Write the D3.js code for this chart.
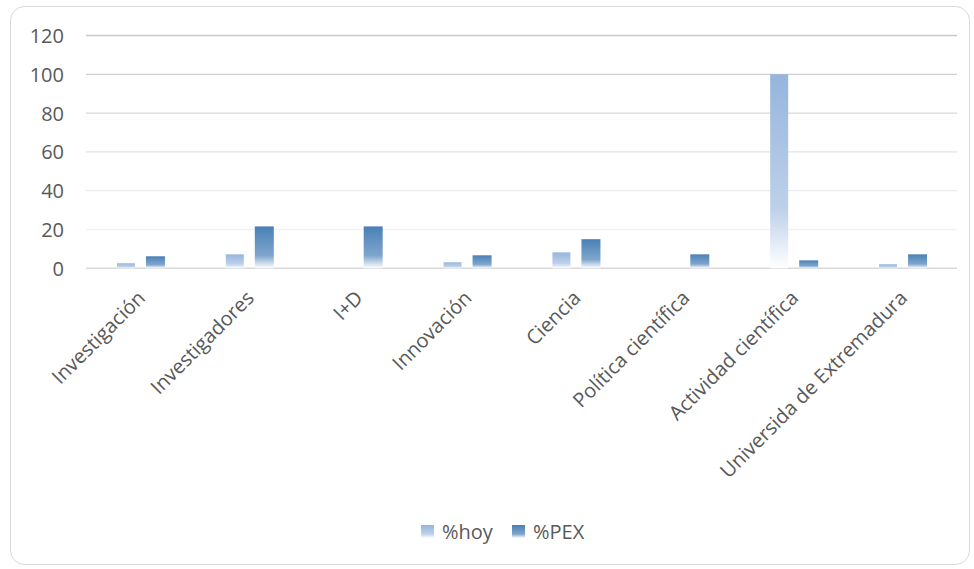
<!DOCTYPE html>
<html><head><meta charset="utf-8">
<script src="https://cdn.jsdelivr.net/npm/d3@7"></script>
<style>
html,body{margin:0;padding:0;background:#fff;}
text{font-family:"Open Sans",sans-serif;fill:#595959;}
</style></head>
<body>
<svg id="c" width="974" height="569"></svg>
<script>
const categories = ["Investigación","Investigadores","I+D","Innovación","Ciencia","Política científica","Actividad científica","Universida de Extremadura"];
const hoy = [2.6, 7.2, 0, 3.1, 8.2, 0, 100, 2.1];
const pex = [6.2, 21.6, 21.6, 6.7, 15, 7.2, 4.1, 7.2];
const seriesNames = ["%hoy","%PEX"];
const yTicks = [0,20,40,60,80,100,120];

const svg = d3.select("#c");
const m={l:86,r:957,t:35.5,b:268.3};

const defs = svg.append("defs");
function grad(id, top, mid){
  const g = defs.append("linearGradient").attr("id",id).attr("x1",0).attr("y1",0).attr("x2",0).attr("y2",1);
  g.append("stop").attr("offset","0%").attr("stop-color",top);
  g.append("stop").attr("offset","70%").attr("stop-color",mid);
  g.append("stop").attr("offset","100%").attr("stop-color","#ffffff");
}
grad("gHoy","#95b5dd","#bed1ea");
grad("gPex","#4a80b6","#7fa6cc");

svg.append("rect").attr("x",10.5).attr("y",6.5).attr("width",959).attr("height",558).attr("rx",14)
  .attr("fill","#fff").attr("stroke","#d9d9d9").attr("stroke-width",1);

const x = d3.scaleBand().domain(categories).range([m.l,m.r]);
const y = d3.scaleLinear().domain([0,120]).range([m.b,m.t]);
const gridColors = {0:"#d9d9d9",20:"#f2f2f2",40:"#ececec",60:"#e3e3e3",80:"#d9d9d9",100:"#d0d0d0",120:"#c8c8c8"};

const yAxis = d3.axisLeft(y).tickValues(yTicks).tickSize(0).tickPadding(0);
const ga = svg.append("g").attr("transform",`translate(${m.l},0)`).call(yAxis);
ga.select(".domain").remove();
ga.selectAll("text").attr("x",-22).attr("dy","0.35em").style("font-size","20px").style("fill","#595959").style("font-family","Open Sans");

svg.append("g").selectAll("line").data(yTicks).join("line")
  .attr("x1",m.l).attr("x2",m.r)
  .attr("y1",d=>y(d)).attr("y2",d=>y(d))
  .attr("stroke",d=>gridColors[d]).attr("stroke-width",d=>d===0?1.5:1.3);

const bw = 18, gap = 11;
const bars = svg.append("g");
categories.forEach((c,i)=>{
  const cx = x(c)+x.bandwidth()/2;
  if(hoy[i]>0) bars.append("rect").attr("x",cx-gap/2-bw).attr("width",bw)
    .attr("y",y(hoy[i])).attr("height",y(0)-y(hoy[i])).attr("fill","url(#gHoy)");
  if(pex[i]>0) bars.append("rect").attr("x",cx+gap/2).attr("width",bw+1)
    .attr("y",y(pex[i])).attr("height",y(0)-y(pex[i])).attr("fill","url(#gPex)");
});

const xAxis = d3.axisBottom(x).tickSize(0).tickPadding(0);
const gx = svg.append("g").attr("transform",`translate(0,${m.b})`).call(xAxis);
gx.select(".domain").remove();
gx.selectAll("text")
  .attr("text-anchor","end")
  .attr("transform","translate(1,26) rotate(-45)")
  .attr("dy","0.35em").attr("y",0)
  .style("font-size","20px").style("fill","#595959").style("font-family","Open Sans");

const lg = svg.append("g");
const lx = [421, 512];
seriesNames.forEach((s,i)=>{
  lg.append("rect").attr("x",lx[i]).attr("y",525).attr("width",13).attr("height",13)
    .attr("fill",i===0?"url(#gHoy)":"url(#gPex)");
  lg.append("text").attr("x",lx[i]+21).attr("y",539).text(s)
    .style("font-size","20px").style("fill","#595959");
});
</script>
</body></html>
